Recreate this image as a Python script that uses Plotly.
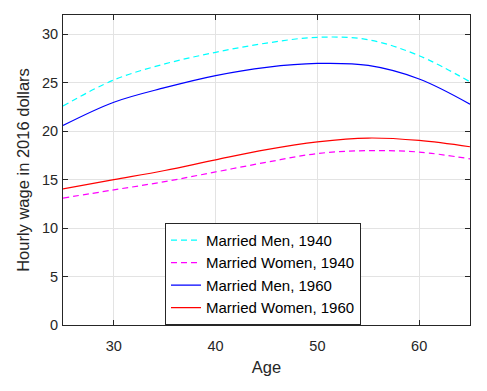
import plotly.graph_objects as go

ages = [25, 30, 35, 40, 45, 50, 55, 60, 65]
men_1940 = [22.6, 25.3, 26.95, 28.15, 29.1, 29.7, 29.45, 27.8, 25.1]
women_1940 = [13.1, 13.95, 14.8, 15.8, 16.8, 17.7, 18.0, 17.85, 17.15]
men_1960 = [20.6, 23.0, 24.5, 25.75, 26.6, 27.0, 26.8, 25.4, 22.8]
women_1960 = [14.05, 15.0, 15.95, 17.05, 18.1, 18.9, 19.3, 19.05, 18.4]

series = [
    ("Married Men, 1940", men_1940, "#00FFFF", "6px,4px"),
    ("Married Women, 1940", women_1940, "#FF00FF", "6px,4px"),
    ("Married Men, 1960", men_1960, "#0000FF", "solid"),
    ("Married Women, 1960", women_1960, "#FF0000", "solid"),
]

fig = go.Figure()
for name, vals, color, dash in series:
    fig.add_trace(go.Scatter(
        x=ages, y=vals, mode="lines", name=name,
        line=dict(color=color, width=1.2, dash=dash, shape="spline", smoothing=1.0),
    ))

axis_common = dict(
    showline=True, linecolor="#262626", linewidth=1, mirror="ticks",
    ticks="inside", ticklen=5, tickcolor="#262626",
    showgrid=True, gridcolor="#E3E3E3", gridwidth=1, zeroline=False,
    tickfont=dict(family="Liberation Sans, Arial", size=14.5, color="#262626"),
    automargin=False,
)

# page body has an 8px default margin, so the figure is offset by 8px
fig.update_layout(
    width=479, height=383,
    margin=dict(l=55, r=17, t=7, b=66),
    paper_bgcolor="white", plot_bgcolor="white",
    font=dict(family="Liberation Sans, Arial", color="#262626"),
    xaxis=dict(range=[25, 65], tickvals=[30, 40, 50, 60], ticklabelstandoff=8,
               title=dict(text="Age", font=dict(size=16.5, color="#262626"), standoff=8),
               **axis_common),
    yaxis=dict(range=[0, 32], tickvals=[0, 5, 10, 15, 20, 25, 30], ticklabelstandoff=1,
               title=dict(text="Hourly wage in 2016 dollars", font=dict(size=16.5, color="#262626"), standoff=8),
               **axis_common),
    legend=dict(x=0.2506, y=0.165, xanchor="left", yanchor="middle",
                bgcolor="white", bordercolor="#262626", borderwidth=1,
                font=dict(family="Liberation Sans, Arial", size=15, color="#000000"),
                tracegroupgap=0, itemwidth=30),
    showlegend=True,
)

fig.write_html("out.html")
